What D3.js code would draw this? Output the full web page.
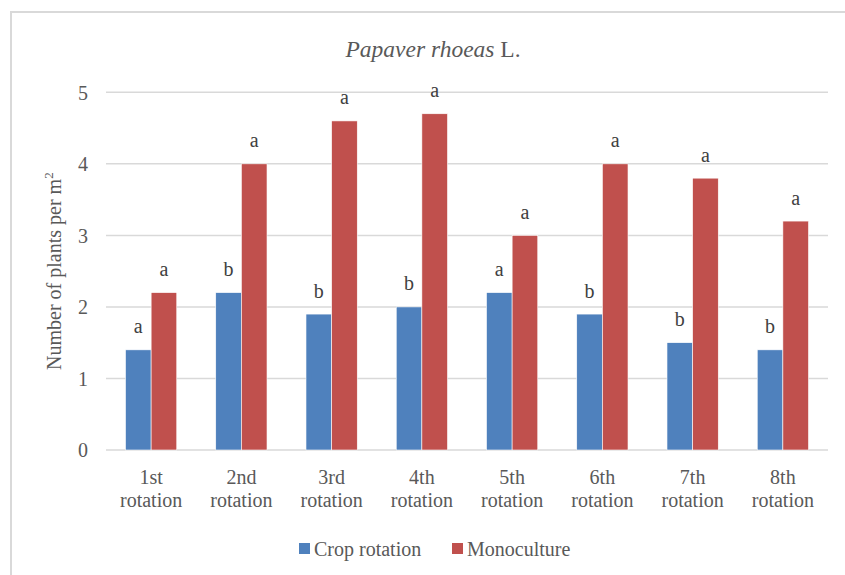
<!DOCTYPE html>
<html>
<head>
<meta charset="utf-8">
<script src="https://cdn.jsdelivr.net/npm/d3@7"></script>
<style>
  html, body { margin: 0; padding: 0; background: #fff; }
  svg { display: block; }
  svg text { font-family: 'Liberation Serif', 'Times New Roman', Times, serif; }
</style>
</head>
<body>
<svg id="chart" width="845" height="575"></svg>
<script>
// Weed density (Papaver rhoeas) per rotation, crop rotation vs monoculture
const categories = ["1st rotation", "2nd rotation", "3rd rotation", "4th rotation",
                    "5th rotation", "6th rotation", "7th rotation", "8th rotation"];
const seriesNames = ["Crop rotation", "Monoculture"];
const cropRotation = [1.4, 2.2, 1.9, 2.0, 2.2, 1.9, 1.5, 1.4];
const monoculture  = [2.2, 4.0, 4.6, 4.7, 3.0, 4.0, 3.8, 3.2];
const cropLetters  = ["a", "b", "b", "b", "a", "b", "b", "b"];
const monoLetters  = ["a", "a", "a", "a", "a", "a", "a", "a"];
const yTicks = [0, 1, 2, 3, 4, 5];

const colors = ["#4f81bd", "#c0504d"];
const textColor = "#595959";
const gridColor = "#d9d9d9";
const serif = "'Liberation Serif', 'Times New Roman', Times, serif";
const fontSize = "20px";

const svg = d3.select("#chart");

// outer chart frame
svg.append("rect")
  .attr("x", 11).attr("y", 12)
  .attr("width", 845).attr("height", 600)
  .attr("fill", "#fff")
  .attr("stroke", gridColor).attr("stroke-width", 2);

const plot = { left: 106, right: 828, top: 92.3, bottom: 450 };

const x = d3.scaleBand().domain(categories).range([plot.left, plot.right]).padding(0);
const y = d3.scaleLinear().domain([0, 5]).range([plot.bottom, plot.top]);

// grouped bar geometry: two bars side by side with a gap between groups
const gapRatio = 1.52;
const barW = x.bandwidth() / (2 + gapRatio);
const inner = d3.scaleBand().domain(seriesNames)
  .range([0, barW * 2]).padding(0);
const groupOffset = (x.bandwidth() - barW * 2) / 2;

// gridlines
svg.append("g")
  .selectAll("line")
  .data(yTicks)
  .join("line")
  .attr("x1", plot.left).attr("x2", plot.right)
  .attr("y1", d => y(d)).attr("y2", d => y(d))
  .attr("stroke", gridColor).attr("stroke-width", 1.5);

// y axis labels
const yAxis = d3.axisLeft(y).tickValues(yTicks).tickFormat(d3.format("d"))
  .tickSize(0).tickPadding(0);
svg.append("g")
  .attr("transform", `translate(${plot.left - 18},0)`)
  .call(yAxis)
  .attr("font-family", serif)
  .call(g => g.select(".domain").remove())
  .call(g => g.selectAll("text")
    .attr("fill", textColor)
    .style("font-family", serif)
    .style("font-size", fontSize)
    .attr("dy", "0.34em"));

// bars
const seriesData = [cropRotation, monoculture];
const letterData = [cropLetters, monoLetters];
seriesNames.forEach((name, si) => {
  const rows = categories.map((c, i) => ({ c, v: seriesData[si][i], l: letterData[si][i] }));
  const g = svg.append("g");
  g.selectAll("rect")
    .data(rows)
    .join("rect")
    .attr("x", d => x(d.c) + groupOffset + inner(name))
    .attr("y", d => y(d.v))
    .attr("width", inner.bandwidth())
    .attr("height", d => y(0) - y(d.v))
    .attr("fill", colors[si])
    .attr("stroke", "#fff").attr("stroke-width", 0.6);

  // significance letters above bars
  g.selectAll("text")
    .data(rows)
    .join("text")
    .attr("x", d => x(d.c) + groupOffset + inner(name) + inner.bandwidth() / 2)
    .attr("y", d => y(d.v) - 16.5)
    .attr("text-anchor", "middle")
    .attr("fill", "#404040")
    .style("font-family", serif)
    .style("font-size", fontSize)
    .text(d => d.l);
});

// x axis category labels on two lines
const xl = svg.append("g");
categories.forEach(c => {
  const parts = c.split(" ");
  const cx = x(c) + x.bandwidth() / 2;
  const t = xl.append("text")
    .attr("x", cx)
    .attr("y", 484)
    .attr("text-anchor", "middle")
    .attr("fill", textColor)
    .style("font-family", serif)
    .style("font-size", fontSize);
  t.append("tspan").attr("x", cx).attr("dy", 0).text(parts[0]);
  t.append("tspan").attr("x", cx).attr("dy", 23).text(parts[1]);
});

// y axis title
const yt = svg.append("text")
  .attr("transform", `translate(61,${(plot.top + plot.bottom) / 2}) rotate(-90)`)
  .attr("text-anchor", "middle")
  .attr("fill", textColor)
  .style("font-family", serif)
  .style("font-size", fontSize);
yt.append("tspan").text("Number of plants per m");
yt.append("tspan").attr("dy", -8).style("font-size", "13px").text("2");

// chart title
const title = svg.append("text")
  .attr("x", 433).attr("y", 57)
  .attr("text-anchor", "middle")
  .attr("fill", textColor)
  .style("font-family", serif)
  .style("font-size", "23.5px");
title.append("tspan").style("font-style", "italic").text("Papaver rhoeas");
title.append("tspan").text(" L.");

// legend
const legendItems = [
  { name: seriesNames[0], color: colors[0], x: 299 },
  { name: seriesNames[1], color: colors[1], x: 452 }
];
const lg = svg.append("g");
legendItems.forEach(it => {
  lg.append("rect")
    .attr("x", it.x).attr("y", 543)
    .attr("width", 11).attr("height", 11)
    .attr("fill", it.color);
  lg.append("text")
    .attr("x", it.x + 15).attr("y", 556)
    .attr("fill", textColor)
    .style("font-family", serif)
    .style("font-size", fontSize)
    .text(it.name);
});
</script>
</body>
</html>
